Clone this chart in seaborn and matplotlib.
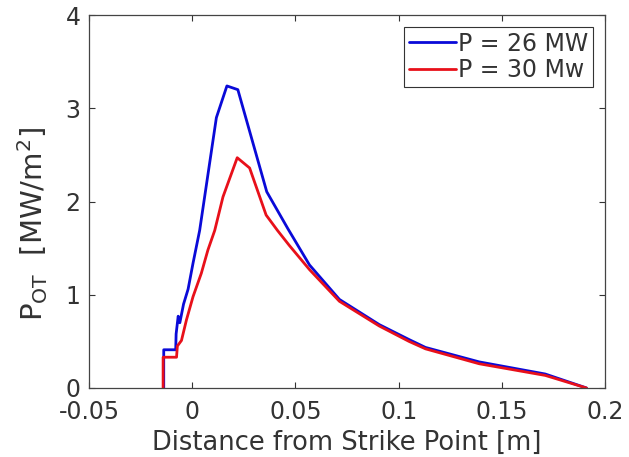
import numpy as np
import pandas as pd
import matplotlib
matplotlib.use("Agg")
import matplotlib.pyplot as plt
import seaborn as sns

# Data
x_26 = [-0.0138, -0.0138, -0.0080, -0.0078, -0.0068, -0.0060, -0.0042, -0.0020, 0.0004,
        0.0036, 0.0117, 0.0168, 0.0221, 0.0361, 0.0463, 0.0568, 0.0713, 0.0906,
        0.1050, 0.1130, 0.1390, 0.1710, 0.1910]
y_26 = [0.00, 0.41, 0.41, 0.58, 0.77, 0.70, 0.90, 1.06, 1.34,
        1.69, 2.90, 3.24, 3.20, 2.105, 1.71, 1.32, 0.95, 0.68,
        0.52, 0.435, 0.28, 0.15, 0.00]

x_30 = [-0.0141, -0.0141, -0.0076, -0.0072, -0.0052, -0.0028, 0.0004, 0.0044, 0.0076,
        0.0109, 0.0149, 0.0218, 0.0278, 0.0358, 0.0413, 0.0470, 0.0568, 0.0713,
        0.0906, 0.1050, 0.1130, 0.1390, 0.1710, 0.1910]
y_30 = [0.00, 0.33, 0.33, 0.45, 0.51, 0.73, 0.98, 1.23, 1.48,
        1.69, 2.05, 2.47, 2.36, 1.855, 1.69, 1.53, 1.27, 0.93,
        0.665, 0.50, 0.42, 0.26, 0.135, 0.00]

labels = ["P = 26 MW", "P = 30 Mw"]
colors = ["#0a0ad8", "#e8101a"]
x_ticks = [-0.05, 0, 0.05, 0.1, 0.15, 0.2]
x_ticklabels = ["-0.05", "0", "0.05", "0.1", "0.15", "0.2"]
y_ticks = [0, 1, 2, 3, 4]

df = pd.concat([
    pd.DataFrame({"x": x_26, "y": y_26, "series": labels[0]}),
    pd.DataFrame({"x": x_30, "y": y_30, "series": labels[1]}),
], ignore_index=True)

sns.set_theme(style="white")
plt.rcParams["font.family"] = ["DejaVu Sans"]
plt.rcParams["mathtext.default"] = "regular"

fig = plt.figure(figsize=(6.29, 4.57), dpi=100)
ax = fig.add_axes([0.1415, 0.151, 0.8205, 0.816])

sns.lineplot(data=df, x="x", y="y", hue="series", palette=dict(zip(labels, colors)),
             estimator=None, sort=False, units="series", linewidth=2.0, ax=ax)

ax.set_xlim(-0.05, 0.2)
ax.set_ylim(0, 4)
ax.set_xticks(x_ticks)
ax.set_xticklabels(x_ticklabels)
ax.set_yticks(y_ticks)
ax.tick_params(axis="both", direction="in", length=4, width=0.8, labelsize=17,
               colors="#333333", top=True, right=True, bottom=True, left=True)
ax.tick_params(axis="x", pad=9)
ax.tick_params(axis="y", pad=6)
for s in ax.spines.values():
    s.set_color("#444444")
    s.set_linewidth(0.9)

ax.set_xlabel("Distance from Strike Point [m]", fontsize=18.5, color="#333333", labelpad=4)
ax.set_ylabel(r"P$_{OT}$  [MW/m$^2$]", fontsize=21, color="#333333")
ax.yaxis.set_label_coords(-0.075, 0.44)

leg = ax.legend(loc="upper right", fontsize=17, frameon=True, fancybox=False,
                framealpha=1, edgecolor="#333333", handlelength=2.0,
                handletextpad=0.08, borderpad=0.2, labelspacing=0.1,
                borderaxespad=0.5)
leg.get_frame().set_linewidth(0.8)
for t in leg.get_texts():
    t.set_color("#333333")

fig.savefig("out.png", dpi=100, facecolor="white")
